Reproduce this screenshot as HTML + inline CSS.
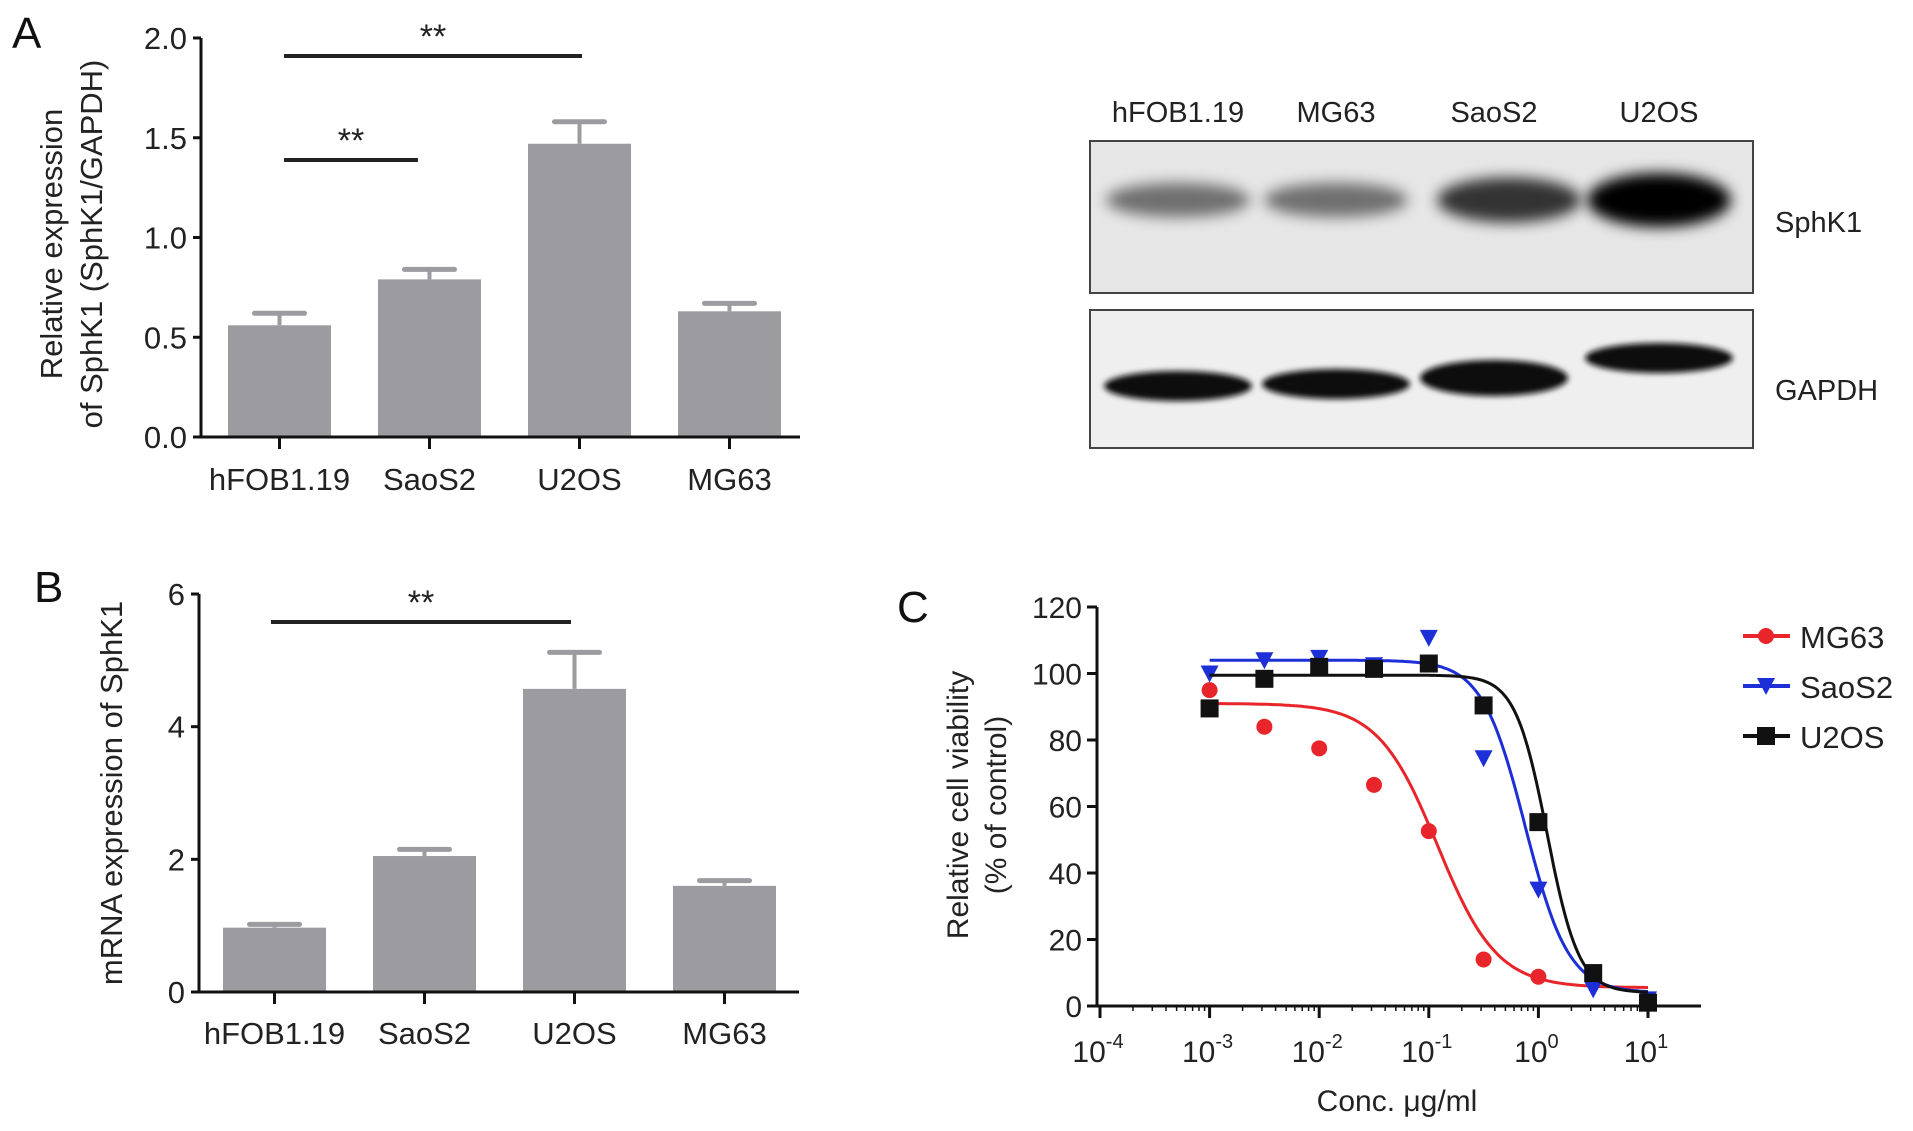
<!DOCTYPE html>
<html><head><meta charset="utf-8"><style>
body{margin:0;background:#fff;overflow:hidden;}
svg{display:block;font-family:"Liberation Sans",Arial,sans-serif;}
</style></head><body>
<svg id="fig" width="1913" height="1131" viewBox="0 0 1913 1131">
<defs>
<filter id="blur" x="-30%" y="-100%" width="160%" height="300%"><feGaussianBlur stdDeviation="7"/></filter>
<filter id="blur2" x="-30%" y="-100%" width="160%" height="300%"><feGaussianBlur stdDeviation="3"/></filter>
</defs>
<g id="gA"></g>
<g id="gB"></g>
<g id="gC"></g>
<g id="gW"></g>
</svg>
<script>
// Panel A data
const catsA = ["hFOB1.19","SaoS2","U2OS","MG63"];
const valsA = [0.56,0.79,1.47,0.63];
const errA = [0.06,0.05,0.11,0.04];
const ticksA = [0,0.5,1.0,1.5,2.0];
const tickLabA = ["0.0","0.5","1.0","1.5","2.0"];
// Panel B data
const catsB = ["hFOB1.19","SaoS2","U2OS","MG63"];
const valsB = [0.97,2.05,4.57,1.6];
const errB = [0.05,0.1,0.55,0.08];
const ticksB = [0,2,4,6];
// Panel C data
const logConc = [-3,-2.5,-2,-1.5,-1,-0.5,0,0.5,1];
const mg63 = [95,84,77.5,66.5,52.6,14,8.8,null,null];
const saos2 = [100,104,104.7,102.5,110.7,74.5,35,5,2];
const u2os = [89.5,98.4,102,101.4,103,90.4,55.3,9.9,1];
const mg63Fit = [91,5.5,-0.92,1.6];   // top,bottom,logIC50,hill
const saos2Fit = [104,4,-0.12,2.2];
const u2osFit = [99.5,4,0.08,3.0];
const ticksCy = [0,20,40,60,80,100,120];
const ticksCx = [-4,-3,-2,-1,0,1];
const legendC = ["MG63","SaoS2","U2OS"];

const NS="http://www.w3.org/2000/svg";
function mk(parent,tag,attrs,text){const e=document.createElementNS(NS,tag);for(const k in attrs)e.setAttribute(k,attrs[k]);if(text!==undefined)e.textContent=text;parent.appendChild(e);return e;}

function barPanel(g,cats,vals,errs,ticks,labs,yS,x0,x1,yBase,barL,barStep,barW,labelY){
  const ax=mk(g,'line',{x1:x0,y1:yS(ticks[ticks.length-1]),x2:x0,y2:yBase,stroke:'#111','stroke-width':3});
  
  const xa=mk(g,'line',{x1:x0-8,y1:yBase,x2:x1,y2:yBase,stroke:'#111','stroke-width':3});
  
  ticks.forEach((t,i)=>{
    mk(g,'line',{x1:x0-8,y1:yS(t),x2:x0,y2:yS(t),stroke:'#111','stroke-width':3});
    const tl=mk(g,'text',{x:x0-14,y:yS(t)+11,'text-anchor':'end','font-size':31,fill:'#222'},labs[i]);
    
  });
  cats.forEach((c,i)=>{
    const bx=barL+i*barStep, cx=bx+barW/2;
    const b=mk(g,'rect',{x:bx,y:yS(vals[i]),width:barW,height:yBase-yS(vals[i])-1.5,fill:'#9b9ba0'});
    
    const ey=yS(vals[i]+errs[i]);
    mk(g,'line',{x1:cx,y1:ey,x2:cx,y2:yS(vals[i]),stroke:'#9b9ba0','stroke-width':4});
    const e=mk(g,'line',{x1:cx-25,y1:ey,x2:cx+25,y2:ey,stroke:'#9b9ba0','stroke-width':5,'stroke-linecap':'round'});
    
    mk(g,'line',{x1:cx,y1:yBase,x2:cx,y2:yBase+12,stroke:'#111','stroke-width':3});
    const l=mk(g,'text',{x:cx,y:labelY,'text-anchor':'middle','font-size':31,fill:'#222'},c);
    
  });
}
function sig(g,xa,xb,y,name){
  const l=mk(g,'line',{x1:xa,y1:y,x2:xb,y2:y,stroke:'#222','stroke-width':4});
  
  const t=mk(g,'text',{x:(xa+xb)/2,y:y-8,'text-anchor':'middle','font-size':34,fill:'#222'},'**');
  
}
// Panel A
const gA=document.getElementById('gA');
const yA=v=>437-v*199.5;
barPanel(gA,catsA,valsA,errA,ticksA,tickLabA,yA,201,800,437,228,150,103,490);
sig(gA,284,582,56,'significance-line-u2os');
sig(gA,284,418,160,'significance-line-saos2');
let t=mk(gA,'text',{x:12,y:48,'font-size':44,fill:'#111'},'A');
t=mk(gA,'text',{transform:'translate(62,244) rotate(-90)','text-anchor':'middle','font-size':31,fill:'#222'},'Relative expression');
t=mk(gA,'text',{transform:'translate(102,244) rotate(-90)','text-anchor':'middle','font-size':31,fill:'#222'},'of SphK1 (SphK1/GAPDH)');
// Panel B
const gB=document.getElementById('gB');
const yB=v=>992-v*66.33;
barPanel(gB,catsB,valsB,errB,ticksB,ticksB.map(String),yB,199,799,992,223,150,103,1044);
sig(gB,271,571,622,'significance-line-u2os');
t=mk(gB,'text',{x:34,y:602,'font-size':44,fill:'#111'},'B');
t=mk(gB,'text',{transform:'translate(122,793) rotate(-90)','text-anchor':'middle','font-size':31,fill:'#222'},'mRNA expression of SphK1');
// Panel C
const gC=document.getElementById('gC');
const xC=l=>1100+(l+4)*109.6;
const yC=v=>1006-v*3.325;
mk(gC,'line',{x1:1097,y1:yC(120),x2:1097,y2:1006,stroke:'#111','stroke-width':3});
mk(gC,'line',{x1:1097,y1:1006,x2:1701,y2:1006,stroke:'#111','stroke-width':3});
ticksCy.forEach(v=>{
  mk(gC,'line',{x1:1087,y1:yC(v),x2:1097,y2:yC(v),stroke:'#111','stroke-width':3});
  const l=mk(gC,'text',{x:1082,y:yC(v)+11,'text-anchor':'end','font-size':30,fill:'#222'},String(v));
  
});
ticksCx.forEach(p=>{
  mk(gC,'line',{x1:xC(p),y1:1006,x2:xC(p),y2:1018,stroke:'#111','stroke-width':3});
  for(let k=2;k<10&&p<1;k++){const xx=xC(p+Math.log10(k));mk(gC,'line',{x1:xx,y1:1006,x2:xx,y2:1011,stroke:'#111','stroke-width':1.5});}
  const l=mk(gC,'text',{x:xC(p)-2,y:1062,'text-anchor':'middle','font-size':30,fill:'#222'});
  
  l.textContent='10';mk(l,'tspan',{dy:-14,'font-size':20},String(p));
});
t=mk(gC,'text',{x:1397,y:1111,'text-anchor':'middle','font-size':30,fill:'#222'},'Conc. μg/ml');
t=mk(gC,'text',{transform:'translate(968,805) rotate(-90)','text-anchor':'middle','font-size':30,fill:'#222'},'Relative cell viability');
t=mk(gC,'text',{transform:'translate(1006,805) rotate(-90)','text-anchor':'middle','font-size':30,fill:'#222'},'(% of control)');
t=mk(gC,'text',{x:897,y:622,'font-size':44,fill:'#111'},'C');
function marker(g,shape,x,y,col){
  if(shape==='circle')return mk(g,'circle',{cx:x,cy:y,r:8,fill:col});
  if(shape==='tri')return mk(g,'path',{d:`M${x-9},${y-8}L${x+9},${y-8}L${x},${y+9}Z`,fill:col});
  return mk(g,'rect',{x:x-9,y:y-9,width:18,height:18,fill:col});
}
const seriesC=[[mg63,mg63Fit,'#e8252a','circle','MG63'],[saos2,saos2Fit,'#1d2fd6','tri','SaoS2'],[u2os,u2osFit,'#111','square','U2OS']];
seriesC.forEach(([vals,fit,col,shape,name],si)=>{
  let d='';
  for(let l=-3;l<=1.0001;l+=0.02){const v=fit[1]+(fit[0]-fit[1])/(1+Math.pow(10,(l-fit[2])*fit[3]));d+=(d?'L':'M')+xC(l).toFixed(1)+','+yC(v).toFixed(1);}
  const p=mk(gC,'path',{d:d,fill:'none',stroke:col,'stroke-width':3});
  
  vals.forEach((v,i)=>{if(v===null)return;
    const m=marker(gC,shape,xC(logConc[i]),yC(v),col);
    
  });
  const ly=[636,686,736][si];
  mk(gC,'line',{x1:1743,y1:ly,x2:1790,y2:ly,stroke:col,'stroke-width':4});
  marker(gC,shape,1766,ly,col);
  const lt=mk(gC,'text',{x:1800,y:ly+12,'font-size':31,fill:'#222'},name);
  
});
// Western blot
const gW=document.getElementById('gW');
let r=mk(gW,'rect',{x:1090,y:141,width:663,height:152,fill:'#e6e6e6',stroke:'#444','stroke-width':2});

r=mk(gW,'rect',{x:1090,y:310,width:663,height:138,fill:'#efefef',stroke:'#444','stroke-width':2});

const laneNames=["hFOB1.19","MG63","SaoS2","U2OS"];
const laneX=[1178,1336,1494,1659];
const sphk1=[0.35,0.35,0.7,1.0];
const gapdh=[1,1,1,1];
laneNames.forEach((n,i)=>{
  const l=mk(gW,'text',{x:laneX[i],y:122,'text-anchor':'middle','font-size':29,fill:'#222'},n);
  
  const h=16+30*sphk1[i];
  const b=mk(gW,'ellipse',{cx:laneX[i]+ (i==2?15:0),cy:200,rx:72,ry:h/2+4,fill:'#000',opacity:0.25+0.75*sphk1[i],filter:'url(#blur)'});
  
  const gy=[386,384,378,358][i];
  const gb=mk(gW,'ellipse',{cx:laneX[i],cy:gy,rx:74,ry:15+(i==2?3:0),fill:'#111',filter:'url(#blur2)'});
  
});
t=mk(gW,'text',{x:1775,y:232,'font-size':29,fill:'#222'},'SphK1');
t=mk(gW,'text',{x:1775,y:400,'font-size':29,fill:'#222'},'GAPDH');
</script>
</body></html>
